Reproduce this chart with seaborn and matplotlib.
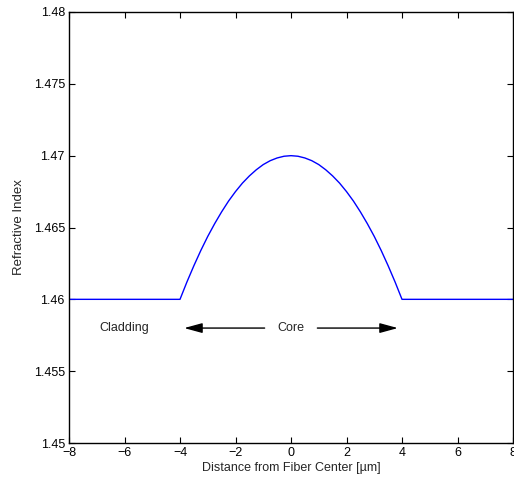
import numpy as np
import pandas as pd
import matplotlib
matplotlib.use('Agg')
import matplotlib.pyplot as plt
import seaborn as sns

sns.set_style('ticks')
plt.rcParams['font.family'] = ['Liberation Sans', 'DejaVu Sans']
plt.rcParams['axes.unicode_minus'] = True

# Refractive index profile (graded-index core, flat cladding)
distance = [-8.0, -4.0,
            -3.75, -3.5, -3.25, -3.0, -2.75, -2.5, -2.25, -2.0, -1.75, -1.5, -1.25, -1.0, -0.75, -0.5, -0.25,
            0.0,
            0.25, 0.5, 0.75, 1.0, 1.25, 1.5, 1.75, 2.0, 2.25, 2.5, 2.75, 3.0, 3.25, 3.5, 3.75,
            4.0, 8.0]
index = [1.46, 1.46,
         1.46121, 1.46234, 1.46340, 1.46438, 1.46527, 1.46609, 1.46684, 1.46750, 1.46809, 1.46859, 1.46902, 1.46938, 1.46965, 1.46984, 1.46996,
         1.47,
         1.46996, 1.46984, 1.46965, 1.46938, 1.46902, 1.46859, 1.46809, 1.46750, 1.46684, 1.46609, 1.46527, 1.46438, 1.46340, 1.46234, 1.46121,
         1.46, 1.46]

x_ticks = [-8, -6, -4, -2, 0, 2, 4, 6, 8]
y_ticks = [1.45, 1.455, 1.46, 1.465, 1.47, 1.475, 1.48]
y_tick_labels = ['1.45', '1.455', '1.46', '1.465', '1.47', '1.475', '1.48']

df = pd.DataFrame({'Distance': distance, 'Index': index})

fig = plt.figure(figsize=(5.14, 4.87), dpi=100)
ax = fig.add_axes([69 / 514, 1 - 443 / 487, 444 / 514, 431 / 487])

sns.lineplot(data=df, x='Distance', y='Index', ax=ax, color='#0000ff', linewidth=1.0, sort=False)

ax.set_xlim(-8, 8)
ax.set_ylim(1.45, 1.48)
ax.set_xticks(x_ticks)
ax.set_yticks(y_ticks)
ax.set_yticklabels(y_tick_labels)
ax.tick_params(direction='in', top=True, right=True, length=4, width=0.8,
               labelsize=9, pad=3, colors='black')

for s in ax.spines.values():
    s.set_visible(True)
    s.set_linewidth(1.0)
    s.set_color('black')

ax.set_xlabel('Distance from Fiber Center [\u00b5m]', fontsize=9, labelpad=2)
ax.set_ylabel('Refractive Index', fontsize=9.5, labelpad=6)

# annotations
ax.text(-6, 1.458, 'Cladding', ha='center', va='center', fontsize=9)
ax.text(0, 1.458, 'Core', ha='center', va='center', fontsize=9)
arrow = dict(arrowstyle='-|>,head_length=1.1,head_width=0.3', color='black', lw=1.0)
ax.annotate('', xy=(-3.95, 1.458), xytext=(-0.85, 1.458), arrowprops=arrow)
ax.annotate('', xy=(3.95, 1.458), xytext=(0.85, 1.458), arrowprops=arrow)

fig.savefig('out.png', dpi=100)
